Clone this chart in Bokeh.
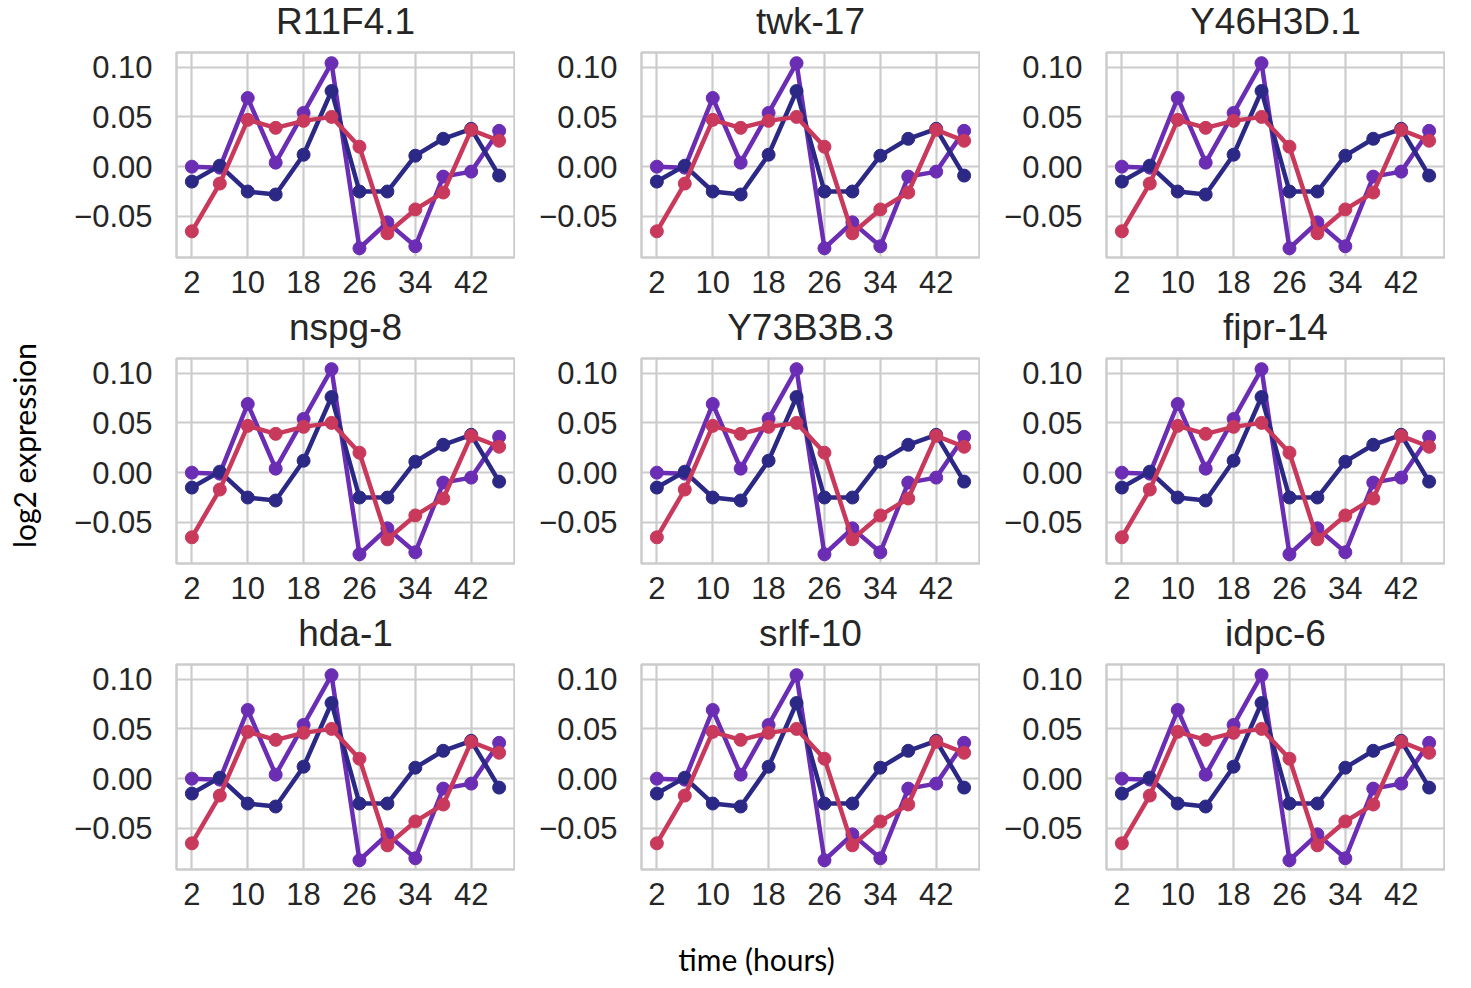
from bokeh.plotting import figure
from bokeh.layouts import row, column
from bokeh.models import Range1d, FixedTicker, CustomJSTickFormatter, Label
from bokeh.embed import file_html
from bokeh.resources import INLINE
import math

# ---- data ----
genes = ["R11F4.1", "twk-17", "Y46H3D.1",
         "nspg-8", "Y73B3B.3", "fipr-14",
         "hda-1", "srlf-10", "idpc-6"]
time_h = [2, 6, 10, 14, 18, 22, 26, 30, 34, 38, 42, 46]
series_purple = [0.000, -0.001, 0.069, 0.004, 0.054, 0.104, -0.082, -0.056, -0.080, -0.010, -0.005, 0.036]
series_navy = [-0.015, 0.001, -0.025, -0.028, 0.012, 0.076, -0.025, -0.025, 0.011, 0.028, 0.038, -0.009]
series_red = [-0.065, -0.017, 0.047, 0.039, 0.046, 0.050, 0.020, -0.067, -0.043, -0.026, 0.037, 0.026]
x_ticks = [2, 10, 18, 26, 34, 42]
y_ticks = [-0.05, 0.0, 0.05, 0.10]
x_label = "time (hours)"
y_label = "log2 expression"

# ---- style ----
C_PURPLE = "#6a2db4"
C_NAVY = "#2c2886"
C_RED = "#c9395c"
GRID = "#cccccc"
TXT = "#262626"
FONT = "Liberation Sans"
LABEL_FONT = "Lato"

X0, X1 = -0.2, 48.2
Y0, Y1 = -0.0913, 0.1147
PW = 465          # width of one panel figure
BL = 126          # left border of a panel (room for y tick labels)
FW = 338          # frame width
TOP_B, BOT_B, FH = 10, 49, 205
STRIP_H = 42      # title strip height


def panel():
    p = figure(width=PW, height=TOP_B + FH + BOT_B, output_backend="svg",
               toolbar_location=None,
               x_range=Range1d(X0, X1), y_range=Range1d(Y0, Y1),
               min_border_left=BL, min_border_right=PW - BL - FW,
               min_border_top=TOP_B, min_border_bottom=BOT_B)
    p.outline_line_color = GRID
    p.outline_line_width = 2.5
    p.background_fill_color = "white"
    p.border_fill_color = "white"

    p.xaxis.ticker = FixedTicker(ticks=x_ticks)
    p.yaxis.ticker = FixedTicker(ticks=y_ticks)
    p.yaxis.formatter = CustomJSTickFormatter(
        code="return tick.toFixed(2).replace('-', '\u2212');")
    for ax in (p.xaxis[0], p.yaxis[0]):
        ax.axis_line_color = None
        ax.major_tick_line_color = None
        ax.minor_tick_line_color = None
        ax.major_tick_in = 0
        ax.major_tick_out = 0
        ax.major_label_text_font = FONT
        ax.major_label_text_font_size = "31px"
        ax.major_label_text_color = TXT
    p.xaxis.major_label_standoff = 13
    p.yaxis.major_label_standoff = 24

    p.xgrid.grid_line_color = GRID
    p.ygrid.grid_line_color = GRID
    p.xgrid.grid_line_width = 2.2
    p.ygrid.grid_line_width = 2.2

    for ys, c in ((series_purple, C_PURPLE), (series_navy, C_NAVY), (series_red, C_RED)):
        p.line(time_h, ys, line_color=c, line_width=4.5)
        p.scatter(time_h, ys, size=13, fill_color=c, line_color=c)
    return p


def title_strip(titles):
    s = figure(width=3 * PW, height=STRIP_H, output_backend="svg", toolbar_location=None,
               x_range=Range1d(0, 3 * PW), y_range=Range1d(0, STRIP_H),
               x_axis_type=None, y_axis_type=None, min_border=0)
    s.outline_line_color = None
    s.grid.visible = False
    for c, t in enumerate(titles):
        s.add_layout(Label(x=BL + FW / 2 + PW * c, y=1, text=t,
                           text_align="center", text_baseline="bottom",
                           text_font=FONT, text_font_size="37px", text_color=TXT))
    return s


blocks = []
for r in range(3):
    blocks.append(title_strip(genes[r * 3:(r + 1) * 3]))
    blocks.append(row(*[panel() for _ in range(3)]))

# left strip with y label
left = figure(width=50, height=988, output_backend="svg", toolbar_location=None,
              x_range=Range1d(0, 50), y_range=Range1d(0, 988),
              x_axis_type=None, y_axis_type=None, min_border=0)
left.outline_line_color = None
left.grid.visible = False
left.add_layout(Label(x=23, y=988 - 445, text=y_label, angle=math.pi / 2,
                      text_align="center", text_baseline="middle",
                      text_font=LABEL_FONT, text_font_size="30px", text_color="black"))

# bottom strip with x label
BH = 70
bottom = figure(width=3 * PW, height=BH, output_backend="svg", toolbar_location=None,
                x_range=Range1d(0, 3 * PW), y_range=Range1d(0, BH),
                x_axis_type=None, y_axis_type=None, min_border=0)
bottom.outline_line_color = None
bottom.grid.visible = False
bottom.add_layout(Label(x=756 - 50, y=12, text=x_label,
                        text_align="center", text_baseline="bottom",
                        text_font=LABEL_FONT, text_font_size="30px", text_color="black"))

layout = row(left, column(*blocks, bottom))

open("out.html", "w").write(file_html(layout, INLINE))
